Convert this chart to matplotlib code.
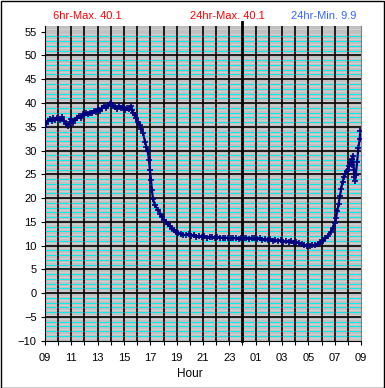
import matplotlib
matplotlib.use("Agg")
import matplotlib.pyplot as plt
from matplotlib.patches import Rectangle
import numpy as np

plt.rcParams['font.family'] = ['Liberation Sans', 'DejaVu Sans']

# ---- data (hours since 00:00 of day 1; temperatures) ----
hours = [9.00, 9.10, 9.20, 9.35, 9.50, 9.60, 9.75, 9.90, 10.00, 10.15, 10.30, 10.45, 10.60, 10.75,
         10.90, 11.00, 11.10, 11.25, 11.40, 11.55, 11.70, 11.85, 12.00, 12.15, 12.30, 12.45,
         12.60, 12.75, 12.90, 13.05, 13.20, 13.35, 13.50, 13.65, 13.80, 13.95, 14.05, 14.15,
         14.30, 14.45, 14.60, 14.75, 14.90, 15.05, 15.20, 15.35, 15.50, 15.60, 15.70, 15.80,
         15.90, 16.05, 16.20, 16.32, 16.45, 16.60, 16.70, 16.80, 16.90, 16.97, 17.05, 17.12,
         17.20, 17.35, 17.58, 17.75, 17.90, 18.05, 18.20, 18.35, 18.50, 18.65, 18.80, 18.95,
         19.10, 19.30, 19.50, 19.70, 19.90, 20.10, 20.30, 20.50, 20.70, 20.90, 21.10, 21.30,
         21.50, 21.70, 21.90, 22.10, 22.30, 22.50, 22.70, 22.90, 23.10, 23.30, 23.50, 23.70,
         23.90, 24.10, 24.30, 24.50, 24.70, 24.90, 25.10, 25.30, 25.50, 25.70, 25.90, 26.10,
         26.30, 26.50, 26.70, 26.90, 27.10, 27.30, 27.50, 27.70, 27.90, 28.10, 28.30, 28.50,
         28.70, 28.90, 29.10, 29.30, 29.50, 29.70, 29.90, 30.10, 30.30, 30.50, 30.70, 30.85,
         31.00, 31.10, 31.20, 31.30, 31.40, 31.50, 31.60, 31.70, 31.80, 31.90, 32.00, 32.10,
         32.20, 32.30, 32.35, 32.40, 32.45, 32.50, 32.55, 32.60, 32.70, 32.80, 32.90, 32.95]
temps = [35.0, 35.6, 36.2, 36.6, 36.3, 36.9, 36.4, 36.8, 36.8, 36.5, 37.0, 36.2, 35.6, 35.2,
         36.0, 36.6, 35.8, 36.4, 36.9, 37.2, 36.9, 37.6, 37.4, 37.9, 37.7, 38.0,
         37.8, 38.3, 38.1, 38.7, 38.4, 38.9, 39.3, 39.0, 39.5, 39.8, 40.1, 39.4,
         39.2, 38.8, 39.3, 38.9, 39.1, 38.6, 38.9, 38.7, 39.4, 38.5, 37.8, 37.4,
         36.8, 36.0, 35.4, 34.6, 33.7, 31.8, 30.8, 29.8, 28.0, 25.9, 23.8, 21.7,
         19.8, 18.5, 17.5, 16.7, 16.0, 15.4, 14.9, 14.5, 14.1, 13.6, 13.2, 12.8,
         12.6, 12.4, 12.3, 12.2, 12.4, 12.1, 12.2, 11.9, 12.0, 11.8, 12.0, 11.7,
         11.9, 11.8, 11.6, 11.8, 11.7, 11.6, 11.7, 11.5, 11.6, 11.5, 11.6, 11.4,
         11.6, 11.5, 11.7, 11.4, 11.6, 11.5, 11.3, 11.5, 11.2, 11.4, 11.1, 11.3,
         11.0, 11.2, 10.9, 11.1, 10.8, 11.0, 10.7, 10.9, 10.6, 10.8, 10.5, 10.4,
         10.1, 10.0, 9.9, 10.1, 10.2, 10.4, 10.7, 11.0, 11.5, 12.1, 12.9, 13.8,
         14.8, 15.8, 17.2, 18.8, 20.5, 22.0, 23.4, 24.5, 25.0, 25.6, 26.0, 26.8,
         27.5, 28.2, 27.0, 28.9, 26.0, 24.5, 23.6, 24.8, 27.5, 30.5, 32.5, 34.2]

xtick_hours = list(range(9, 34))
xtick_labels = [f"{h % 24:02d}" if (h - 9) % 2 == 0 else "" for h in xtick_hours]
yticks = list(range(-10, 56, 5))
label_6hr = "6hr-Max. 40.1"
label_24max = "24hr-Max. 40.1"
label_24min = "24hr-Min. 9.9"

W, H = 385, 388
fig = plt.figure(figsize=(W / 100, H / 100), dpi=100)
fig.patch.set_facecolor("white")
ax = fig.add_axes([45 / W, 47.3 / H, 316 / W, 314.7 / H])
ax.set_facecolor("#c0c0c0")
ax.set_xlim(9, 33)
ax.set_ylim(-10, 56.2)

# minor horizontal lines
for v in np.arange(-10, 56.01, 0.5):
    if abs(v - round(v)) > 0.01:
        ax.axhline(v, color="#d6d6d6", lw=0.5, zorder=1)
for v in range(-9, 56):
    if v % 5 != 0:
        ax.axhline(v, color="#00f0f0", lw=0.75, zorder=1.2)
for v in yticks:
    if -10 < v < 55:
        ax.axhline(v, color="black", lw=1.2, zorder=1.5)
for h in xtick_hours:
    if 9 < h < 33 and h != 24:
        ax.axvline(h, color="black", lw=1.2, zorder=1.5)
ax.axvline(24, ymin=0, ymax=1.012, color="black", lw=2.0, zorder=1.6, clip_on=False)

ax.plot(hours, temps, color="#000080", lw=1.6, marker="+", ms=4, mew=1.2, zorder=3)

ax.set_xticks(xtick_hours)
ax.set_xticklabels(xtick_labels)
ax.set_yticks(yticks)
ax.tick_params(axis="both", direction="out", length=3, width=0.8, color="black",
               labelsize=8, labelcolor="black")
ax.tick_params(axis="x", pad=6)
ax.tick_params(axis="y", pad=3)

ax.spines["top"].set_visible(False)
ax.spines["right"].set_color("#808080")
ax.spines["left"].set_color("black")
ax.spines["bottom"].set_color("black")
for s in ax.spines.values():
    s.set_linewidth(0.8)

fig.text(87 / W, 1 - 16 / H, label_6hr, color="#ff0000", fontsize=8, ha="center", va="center")
fig.text(227 / W, 1 - 16 / H, label_24max, color="#ff0000", fontsize=8, ha="center", va="center")
fig.text(324 / W, 1 - 16 / H, label_24min, color="#3366ff", fontsize=8, ha="center", va="center")
fig.text(190 / W, 1 - 374 / H, "Hour", color="black", fontsize=8.5, ha="center", va="center")

fig.add_artist(Rectangle((0.5 / W, 0.5 / H), (W - 2) / W, (H - 1.5) / H, transform=fig.transFigure,
                         fill=False, edgecolor="black", lw=1.0))

fig.savefig("out.png", dpi=100, facecolor="white")
